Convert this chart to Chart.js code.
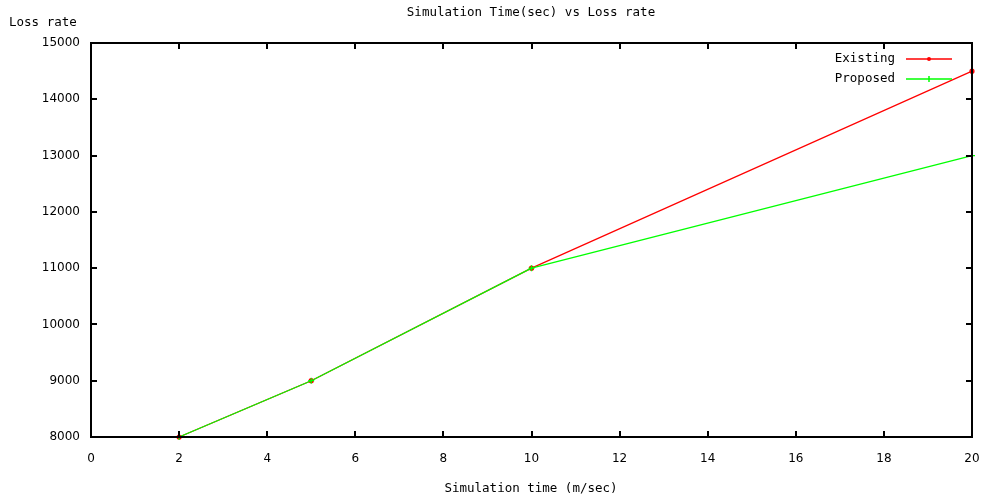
<!DOCTYPE html>
<html>
<head>
<meta charset="utf-8">
<script src="https://cdn.jsdelivr.net/npm/chart.js@4.4.1/dist/chart.umd.min.js"></script>
<style>
  html, body { margin: 0; padding: 0; background: #fff; }
  #wrap { width: 991px; height: 498px; position: relative; }
</style>
</head>
<body>
<div id="wrap"><canvas id="lossChart"></canvas></div>
<script>
// data
const simTime = [2, 5, 10, 20];
const existingLoss = [8000, 9000, 11000, 14500];
const proposedLoss = [8000, 9000, 11000, 13000];
const xTicks = [0, 2, 4, 6, 8, 10, 12, 14, 16, 18, 20];
const yTicks = [8000, 9000, 10000, 11000, 12000, 13000, 14000, 15000];
const seriesNames = ["Existing", "Proposed"];
const seriesColors = ["#ff0000", "#00ff00"];

const monoFont = "12.5px 'DejaVu Sans Mono', monospace";

// gnuplot-like frame: inward ticks on all four sides, labels, legend
const gnuplotFrame = {
  id: "gnuplotFrame",
  afterDraw(chart) {
    const ctx = chart.ctx;
    const a = chart.chartArea;
    const xs = chart.scales.x, ys = chart.scales.y;
    ctx.save();
    ctx.strokeStyle = "#000";
    ctx.lineWidth = 2;
    ctx.strokeRect(a.left, a.top, a.right - a.left, a.bottom - a.top);
    ctx.beginPath();
    xTicks.forEach(v => {
      const px = Math.round(xs.getPixelForValue(v));
      ctx.moveTo(px, a.bottom); ctx.lineTo(px, a.bottom - 6);
      ctx.moveTo(px, a.top); ctx.lineTo(px, a.top + 6);
    });
    yTicks.forEach(v => {
      const py = Math.round(ys.getPixelForValue(v));
      ctx.moveTo(a.left, py); ctx.lineTo(a.left + 6, py);
      ctx.moveTo(a.right, py); ctx.lineTo(a.right - 6, py);
    });
    ctx.stroke();

    // texts
    ctx.fillStyle = "#000";
    ctx.font = monoFont;
    ctx.textBaseline = "middle";
    ctx.textAlign = "center";
    ctx.fillText("Simulation Time(sec) vs Loss rate", 531, 13);
    ctx.fillText("Simulation time (m/sec)", 531, 489);
    ctx.textAlign = "left";
    ctx.fillText("Loss rate", 9, 23);

    // legend
    const rows = [59, 79];
    seriesNames.forEach((name, i) => {
      const y = rows[i];
      ctx.fillStyle = "#000";
      ctx.textAlign = "right";
      ctx.fillText(name, 895, y);
      ctx.strokeStyle = seriesColors[i];
      ctx.fillStyle = seriesColors[i];
      ctx.lineWidth = 1.5;
      ctx.beginPath();
      ctx.moveTo(906, y); ctx.lineTo(952, y);
      ctx.stroke();
      if (i === 0) {
        ctx.beginPath(); ctx.arc(929, y, 2, 0, Math.PI * 2); ctx.fill();
      } else {
        ctx.beginPath();
        ctx.moveTo(929, y - 3); ctx.lineTo(929, y + 3);
        ctx.stroke();
      }
    });
    ctx.restore();
  }
};

const ctx = document.getElementById("lossChart").getContext("2d");
new Chart(ctx, {
  type: "line",
  data: {
    datasets: [
      {
        label: seriesNames[0],
        data: simTime.map((t, i) => ({ x: t, y: existingLoss[i] })),
        borderColor: seriesColors[0],
        backgroundColor: seriesColors[0],
        borderWidth: 1.2,
        pointRadius: 2,
        pointStyle: "circle",
        tension: 0,
        clip: false,
        order: 1
      },
      {
        label: seriesNames[1],
        data: simTime.map((t, i) => ({ x: t, y: proposedLoss[i] })),
        borderColor: seriesColors[1],
        backgroundColor: seriesColors[1],
        borderWidth: 1.2,
        pointRadius: 3,
        pointStyle: "cross",
        pointBorderWidth: 1.2,
        tension: 0,
        clip: false,
        order: 0
      }
    ]
  },
  options: {
    responsive: true,
    maintainAspectRatio: false,
    animation: false,
    layout: { padding: { top: 43, right: 19, left: 0, bottom: 0 } },
    plugins: { legend: { display: false }, tooltip: { enabled: false } },
    scales: {
      x: {
        type: "linear",
        min: 0, max: 20,
        afterFit(s) { s.height = 61; s.paddingRight = 0; s.paddingLeft = 0; },
        afterBuildTicks(s) { s.ticks = xTicks.map(v => ({ value: v })); },
        grid: { display: false, drawTicks: false },
        border: { display: false },
        ticks: { color: "#000", padding: 15, font: { family: "DejaVu Sans", size: 12 } }
      },
      y: {
        min: 8000, max: 15000,
        afterFit(s) { s.width = 91; },
        afterBuildTicks(s) { s.ticks = yTicks.map(v => ({ value: v })); },
        grid: { display: false, drawTicks: false },
        border: { display: false },
        ticks: {
          color: "#000", padding: 11, font: { family: "DejaVu Sans", size: 12 },
          callback: v => String(v)
        }
      }
    }
  },
  plugins: [gnuplotFrame]
});
</script>
</body>
</html>
